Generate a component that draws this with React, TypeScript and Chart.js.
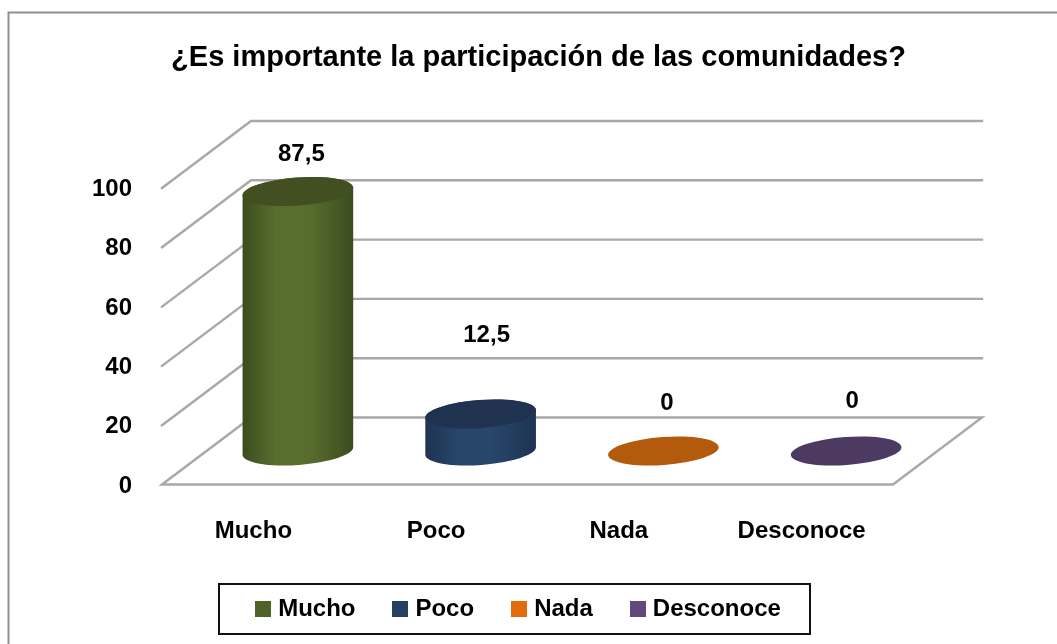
import React, { useEffect, useRef } from "react";
import { Chart, registerables } from "chart.js";

Chart.register(...registerables);

const categories = ["Mucho", "Poco", "Nada", "Desconoce"];
const values = [87.5, 12.5, 0, 0];
const yTicks = [0, 20, 40, 60, 80, 100];
const titleText = "¿Es importante la participación de las comunidades?";

const legendColors = ["#4f6228", "#254061", "#e36c0a", "#604a7b"];
const sideDark = ["#3c4c1e", "#1e3450", "#a85409", "#48375e"];
const sideLight = ["#586e2f", "#28456a", "#b35a0d", "#4c3a63"];
const topColors = ["#414f21", "#1f3350", "#b35a0d", "#4c3a63"];
// nudges of the value labels relative to the bar's top in the depth-shifted plane
const labelNudgeX = [3.5, 6, 3.5, 6];
const labelNudgeY = [-37, -79, -48, -50];

const W = 1057;
const H = 644;
const AREA_LEFT = 162;
const AREA_RIGHT = 893;
const AREA_TOP = 188;
const FLOOR_Y = 484.5;
const DEPTH_X = 89;
const DEPTH_Y = 67;
const RY = 14;
const TILT = (-4.2 * Math.PI) / 180;
const FONT = '"Liberation Sans", Arial, sans-serif';
const GRID = "#a8a8a8";

const scene = {
  id: "scene",
  beforeDraw(chart: any) {
    const { ctx } = chart;
    ctx.save();
    ctx.fillStyle = "#fff";
    ctx.fillRect(0, 0, W, H);
    ctx.strokeStyle = "#8f8f8f";
    ctx.lineWidth = 2;
    ctx.beginPath();
    ctx.moveTo(8.5, H);
    ctx.lineTo(8.5, 12.5);
    ctx.lineTo(W, 12.5);
    ctx.stroke();
    // legend frame
    ctx.strokeStyle = "#111";
    ctx.lineWidth = 2;
    ctx.strokeRect(219, 584, 591, 50);
    ctx.restore();
  },
  afterLayout(chart: any) {
    const t = chart.titleBlock;
    if (t) {
      t.left = 20;
      t.right = W;
      t.width = W - 20;
      t.top = 41;
      t.bottom = 76;
    }
    const l = chart.legend;
    if (l) {
      // left + right keeps the centred row starting at the swatch of "Mucho"
      l.left = 100;
      l.right = 941;
      l.width = 841;
      l.top = 555;
      l.bottom = H;
      l.height = H - 555;
    }
  },
  beforeDatasetsDraw(chart: any) {
    const { ctx, scales } = chart;
    const { x, y } = scales;
    ctx.save();
    ctx.strokeStyle = GRID;
    ctx.lineWidth = 2.4;
    ctx.lineJoin = "miter";
    ctx.lineCap = "square";
    for (const t of yTicks) {
      const py = y.getPixelForValue(t);
      ctx.beginPath();
      ctx.moveTo(x.left, py);
      ctx.lineTo(x.left + DEPTH_X, py - DEPTH_Y);
      ctx.lineTo(x.right + DEPTH_X, py - DEPTH_Y);
      if (t === 0) {
        ctx.lineTo(x.right, py);
        ctx.closePath();
      }
      ctx.stroke();
    }
    ctx.restore();
  },
  beforeDatasetDraw(chart: any) {
    const { ctx } = chart;
    const meta = chart.getDatasetMeta(0);
    meta.data.forEach((el: any, i: number) => {
      const rx = el.width / 2;
      const cx = el.x + DEPTH_X / 2;
      const by = el.base - DEPTH_Y / 2;
      const ty = el.y - DEPTH_Y / 2;
      ctx.save();
      if (values[i] > 0) {
        const g = ctx.createLinearGradient(cx - rx, 0, cx + rx, 0);
        g.addColorStop(0, sideDark[i]);
        g.addColorStop(0.3, sideLight[i]);
        g.addColorStop(0.6, sideLight[i]);
        g.addColorStop(1, sideDark[i]);
        ctx.fillStyle = g;
        ctx.beginPath();
        ctx.ellipse(cx, by, rx, RY, TILT, 0, Math.PI);
        ctx.ellipse(cx, ty, rx, RY, TILT, Math.PI, Math.PI * 2);
        ctx.closePath();
        ctx.fill();
      }
      ctx.fillStyle = topColors[i];
      ctx.beginPath();
      ctx.ellipse(cx, ty, rx, RY, TILT, 0, Math.PI * 2);
      ctx.fill();
      ctx.restore();
    });
    return false;
  },
  afterDatasetsDraw(chart: any) {
    const { ctx } = chart;
    const meta = chart.getDatasetMeta(0);
    ctx.save();
    ctx.fillStyle = "#000";
    ctx.font = `bold 24px ${FONT}`;
    ctx.textAlign = "center";
    ctx.textBaseline = "middle";
    meta.data.forEach((el: any, i: number) => {
      const cx = el.x + DEPTH_X / 2 + labelNudgeX[i];
      const ty = el.y - DEPTH_Y / 2 + labelNudgeY[i];
      ctx.fillText(String(values[i]).replace(".", ","), cx, ty);
    });
    ctx.restore();
  },
};

function swatch(color: string) {
  const c = document.createElement("canvas");
  c.width = 16;
  c.height = 16;
  const g = c.getContext("2d")!;
  g.fillStyle = color;
  g.fillRect(0, 0, 16, 16);
  return c;
}

export default function App() {
  const ref = useRef<HTMLCanvasElement>(null);
  useEffect(() => {
    const chart = new Chart(ref.current!, {
      type: "bar",
      data: {
        labels: categories,
        datasets: [
          {
            data: values,
            backgroundColor: legendColors,
            categoryPercentage: 1,
            barPercentage: 0.607,
          },
        ],
      },
      options: {
        responsive: false,
        animation: false,
        layout: {
          padding: { left: 0, right: W - AREA_RIGHT, top: AREA_TOP - 34.8, bottom: 0 },
        },
        plugins: {
          tooltip: { enabled: false },
          title: {
            display: true,
            text: titleText,
            color: "#000",
            padding: 0,
            font: { family: FONT, size: 29, weight: "bold", lineHeight: 1.2 },
          },
          legend: {
            display: true,
            position: "bottom",
            labels: {
              usePointStyle: true,
              boxWidth: 6,
              padding: 42,
              color: "#000",
              font: { family: FONT, size: 24, weight: "bold" },
              generateLabels: () =>
                categories.map((text, i) => ({
                  text,
                  pointStyle: swatch(legendColors[i]) as any,
                  fillStyle: legendColors[i],
                  strokeStyle: legendColors[i],
                  lineWidth: 0,
                  hidden: false,
                  index: i,
                  fontColor: "#000",
                })),
            },
          },
        },
        scales: {
          x: {
            type: "category",
            grid: { display: false, drawTicks: false },
            border: { display: false },
            ticks: {
              color: "#000",
              padding: 32,
              autoSkip: false,
              maxRotation: 0,
              font: { family: FONT, size: 24, weight: "bold" },
            },
            afterFit(s: any) {
              s.height = H - FLOOR_Y - (s.chart.legend?.height || 0);
            },
          },
          y: {
            type: "linear",
            min: 0,
            max: 100,
            grid: { display: false, drawTicks: false },
            border: { display: false },
            afterBuildTicks(s: any) {
              s.ticks = yTicks.map((value) => ({ value }));
            },
            ticks: {
              color: "#000",
              padding: 30,
              labelOffset: 1.5,
              font: { family: FONT, size: 24, weight: "bold" },
            },
            afterFit(s: any) {
              s.width = AREA_LEFT;
            },
          },
        },
      },
      plugins: [scene],
    } as any);
    return () => chart.destroy();
  }, []);
  return (
    <div style={{ position: "fixed", left: 0, top: 0, width: W, height: H, background: "#fff" }}>
      <canvas
        ref={ref}
        width={W}
        height={H}
        style={{ display: "block", width: W, height: H, filter: "blur(0.5px)" }}
      />
    </div>
  );
}
